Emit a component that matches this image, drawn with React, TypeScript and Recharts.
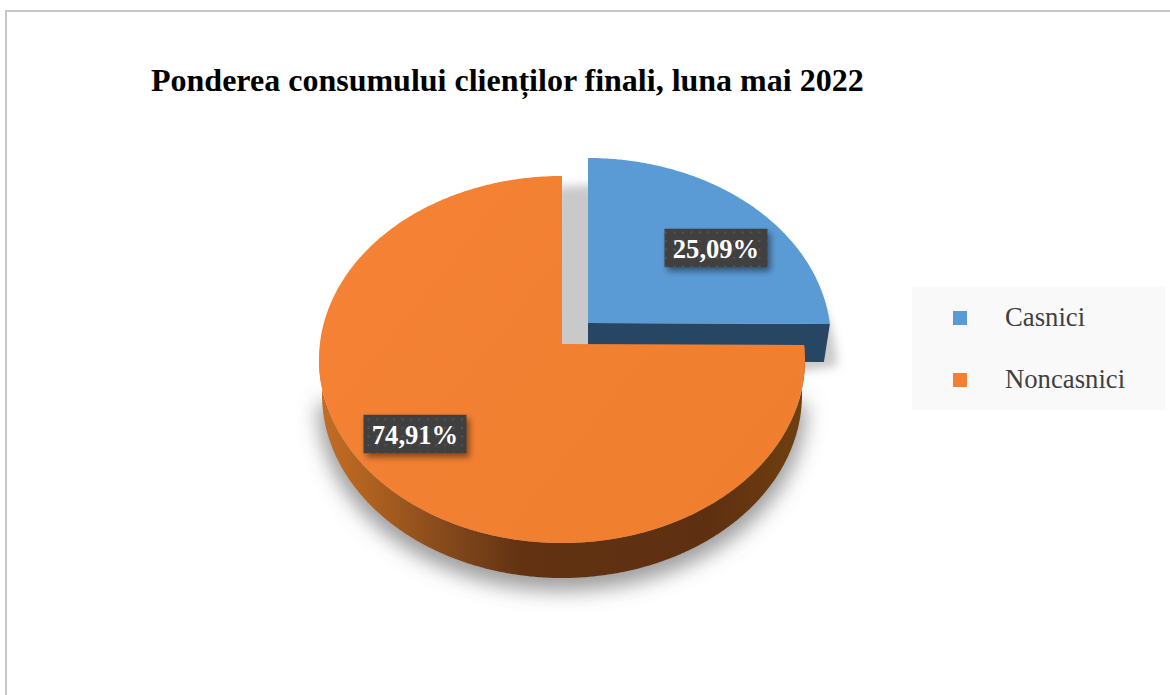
import React from 'react';
import { PieChart, Pie, Cell, Legend } from 'recharts';

const categories = ['Casnici', 'Noncasnici'];
const shares = [25.09, 74.91];
const colours = ['#5b9bd5', '#f27f32'];

const rows = categories.map((name, i) => ({ name, value: shares[i] }));

const SERIF = '"Liberation Serif", "Times New Roman", serif';
const WIDTH = 1170;
const HEIGHT = 695;
const RX = 243;
const RY = 183.5;
const K = RY / RX;

type Slice = { dx: number; dy: number; centre: number; depth: number; inset: number; lx: number; ly: number };
const slices: Record<string, Slice> = {
  Casnici: { dx: 26, dy: -21, centre: 18.5, depth: 38, inset: 6, lx: 128, ly: -75 },
  Noncasnici: { dx: 0, dy: 0, centre: 15.5, depth: 35, inset: 3, lx: -147, ly: 90 },
};

// A point on the tilted rim: the ray from the apex, at the pie angle, meets the ellipse.
function rim(ax: number, ay: number, centre: number, deg: number, rx = RX, ry = RY) {
  const a = (deg * Math.PI) / 180;
  const dx = Math.cos(a);
  const dy = -Math.sin(a) * K;
  const A = (dx * dx) / (rx * rx) + (dy * dy) / (ry * ry);
  const B = (2 * dy * -centre) / (ry * ry);
  const C = (centre * centre) / (ry * ry) - 1;
  const s = (-B + Math.sqrt(B * B - 4 * A * C)) / (2 * A);
  return [ax + s * dx, ay + s * dy];
}

function arc(ax: number, ay: number, centre: number, from: number, to: number, rx = RX, ry = RY) {
  const n = Math.max(2, Math.ceil(Math.abs(to - from) * 2));
  const pts: number[][] = [];
  for (let i = 0; i <= n; i++) pts.push(rim(ax, ay, centre, from + ((to - from) * i) / n, rx, ry));
  return pts;
}

const toPath = (pts: number[][]) =>
  'M' + pts.map((p) => `${p[0].toFixed(1)} ${p[1].toFixed(1)}`).join('L') + 'Z';

function Defs() {
  return (
    <defs>
      <linearGradient id="wall" x1="0" x2="1" y1="0" y2="0">
        <stop offset="0" stopColor="#c46d26" />
        <stop offset="0.1" stopColor="#b0621f" />
        <stop offset="0.24" stopColor="#8a4c1c" />
        <stop offset="0.42" stopColor="#623212" />
        <stop offset="0.8" stopColor="#5e3011" />
        <stop offset="1" stopColor="#70400f" />
      </linearGradient>
      <linearGradient id="faceO" x1="0" x2="1" y1="0.2" y2="0.8">
        <stop offset="0" stopColor="#f58235" />
        <stop offset="1" stopColor="#ef7e2e" />
      </linearGradient>
      <filter id="blurA" x="-30%" y="-30%" width="160%" height="160%">
        <feGaussianBlur stdDeviation="10" />
      </filter>
      <filter id="blurC" x="-30%" y="-30%" width="160%" height="160%">
        <feGaussianBlur stdDeviation="5" />
      </filter>
      <filter id="blurB" x="-30%" y="-30%" width="160%" height="160%">
        <feGaussianBlur stdDeviation="3" />
      </filter>
      <pattern id="dots" width="8.5" height="8.5" patternUnits="userSpaceOnUse">
        <rect width="8.5" height="8.5" fill="#404040" />
        <circle cx="3" cy="3" r="1.1" fill="#565656" />
      </pattern>
    </defs>
  );
}

function SliceShape(props: any) {
  const { cx, cy, startAngle, endAngle, fill, name } = props;
  const s = slices[name] ?? slices[props.payload?.name];
  const ax = cx + s.dx;
  const ay = cy + s.dy;
  const top = [[ax, ay], ...arc(ax, ay, s.centre, startAngle, endAngle)];

  if (s.dx !== 0) {
    // Pulled-out slice: its flat side faces the viewer.
    const edge = rim(ax, ay, s.centre, startAngle < endAngle ? startAngle : endAngle);
    const wall = [[ax, ay], edge, [edge[0] - s.inset, edge[1] + s.depth], [ax, ay + s.depth]];
    const shadow = [
      [ax - 50, ay + 48],
      [ax + 216, ay + 48],
      ...arc(ax + 6, ay + 27, s.centre, -5, 100),
    ];
    return (
      <g>
        <Defs />
        <path d={toPath(shadow)} fill="#707070" fillOpacity={0.38} filter="url(#blurC)" />
        <path d={toPath(wall)} fill="#264664" />
        <path d={toPath(top)} fill={fill} />
      </g>
    );
  }

  const wallTop = arc(ax, ay, s.centre, -3, -177);
  const wallBottom = arc(ax, ay + s.depth, s.centre, -177, -3, RX - s.inset, RY);
  const shadow = arc(ax, ay + s.depth + 11, s.centre, -4, -176, RX + 1, RY + 2);
  return (
    <g>
      <path d={toPath(shadow)} fill="#6a6a6a" fillOpacity={0.65} filter="url(#blurA)" />
      <path d={toPath([...wallTop, ...wallBottom])} fill="url(#wall)" />
      <path d={toPath(top)} fill="url(#faceO)" />
    </g>
  );
}

function ValueLabel(props: any) {
  const { cx, cy, value, name } = props;
  const s = slices[name] ?? slices[props.payload?.name];
  const x = cx + s.dx + s.lx;
  const y = cy + s.dy + s.ly;
  const w = 103;
  const h = 38.5;
  return (
    <g>
      <rect x={x - w / 2 + 3} y={y - h / 2 + 4} width={w} height={h} fill="#000" fillOpacity={0.45} filter="url(#blurB)" />
      <rect x={x - w / 2} y={y - h / 2} width={w} height={h} fill="url(#dots)" />
      <text x={x} y={y + 10} textAnchor="middle" fill="#fff" fontFamily={SERIF} fontWeight={700} fontSize={26.6}>
        {`${value.toFixed(2).replace('.', ',')}%`}
      </text>
    </g>
  );
}

function LegendBox({ payload }: any) {
  return (
    <div style={{ width: 253, height: 123, background: '#f9f9f9', position: 'relative' }}>
      {(payload ?? []).map((e: any, i: number) => (
        <div key={e.value}>
          <div style={{ position: 'absolute', left: 41, top: 24 + i * 62, width: 14, height: 14, background: e.color }} />
          <div
            style={{
              position: 'absolute',
              left: 93,
              top: 15 + i * 62,
              fontFamily: SERIF,
              fontSize: 26.7,
              lineHeight: '30px',
              color: '#404040',
              whiteSpace: 'nowrap',
            }}
          >
            {e.value}
          </div>
        </div>
      ))}
    </div>
  );
}

export default function App() {
  return (
    <div style={{ position: 'fixed', left: 0, top: 0, width: WIDTH, height: HEIGHT, overflow: 'hidden', background: '#fff' }}>
      <div style={{ position: 'absolute', left: 5, top: 10, width: WIDTH, height: HEIGHT, border: '2px solid #c8c8c8' }} />
      <div
        style={{
          position: 'absolute',
          left: 151,
          top: 62,
          fontFamily: SERIF,
          fontWeight: 700,
          fontSize: 32,
          lineHeight: '36px',
          color: '#000',
          whiteSpace: 'nowrap',
        }}
      >
        Ponderea consumului clienților finali, luna mai 2022
      </div>
      <div style={{ position: 'absolute', left: 0, top: 0 }}>
        <PieChart width={WIDTH} height={HEIGHT} margin={{ top: 0, right: 0, bottom: 0, left: 0 }}>
          <Pie
            data={rows}
            dataKey="value"
            nameKey="name"
            cx={562}
            cy={344}
            innerRadius={0}
            outerRadius={RX}
            startAngle={90}
            endAngle={-270}
            stroke="none"
            shape={SliceShape}
            label={ValueLabel}
            labelLine={false}
            isAnimationActive={false}
          >
            {rows.map((r, i) => (
              <Cell key={r.name} fill={colours[i]} />
            ))}
          </Pie>
          <Legend
            content={<LegendBox />}
            wrapperStyle={{ position: 'absolute', left: 912, top: 287, width: 253, height: 123, bottom: 'auto', right: 'auto' }}
          />
        </PieChart>
      </div>
    </div>
  );
}
